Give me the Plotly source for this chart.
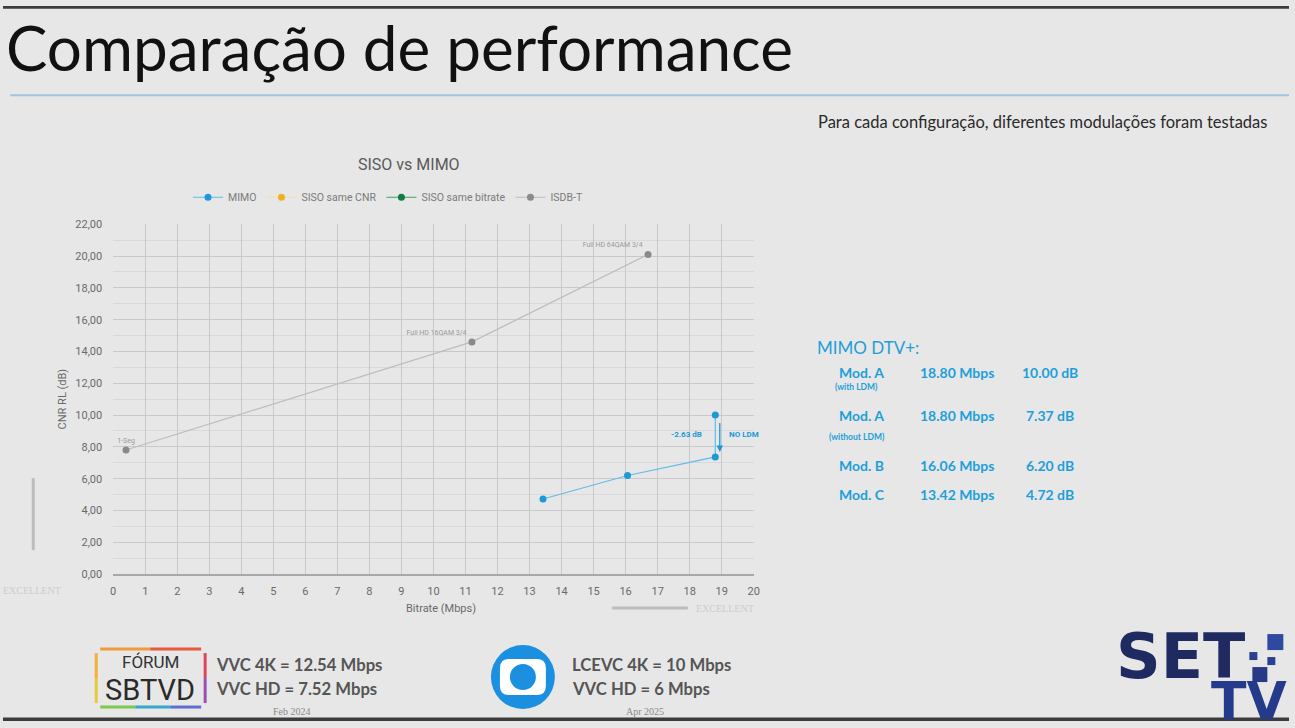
import plotly.graph_objects as go

W, H = 1295, 728

# ---------------- data ----------------
series_names = ["MIMO", "SISO same CNR", "SISO same bitrate", "ISDB-T"]
isdb_x = [0.4, 11.2, 16.7]
isdb_y = [7.8, 14.6, 20.1]
isdb_labels = ["1-Seg", "Full HD 16QAM 3/4", "Full HD 64QAM 3/4"]
mimo_x = [13.42, 16.06, 18.80, 18.80]
mimo_y = [4.72, 6.20, 7.37, 10.00]
x_ticks = list(range(0, 21))
y_ticks = [0, 2, 4, 6, 8, 10, 12, 14, 16, 18, 20, 22]
y_ticktext = [("%.2f" % v).replace(".", ",") for v in y_ticks]

mod_names = ["Mod. A", "Mod. A", "Mod. B", "Mod. C"]
mod_notes = ["(with LDM)", "(without LDM)", "", ""]
mod_bitrate = [18.80, 18.80, 16.06, 13.42]
mod_cnr = [10.00, 7.37, 6.20, 4.72]

ldm_gain = mod_cnr[0] - mod_cnr[1]

# ---------------- helpers (pixel -> paper, with viewport compensation) ----------------
SX, OX = 0.9938, 2.7
SY, OY = 0.9825, 5.7

def px(x):
    return min(max(((x - OX) / SX) / W, 0.0), 1.0)

def py(y):
    return min(max(1 - ((y - OY) / SY) / H, 0.0), 1.0)

BLUE = "#1a9ad6"
GREY_TXT = "#6a6a6a"

fig = go.Figure()

fig.add_trace(go.Scatter(
    x=mimo_x, y=mimo_y, name=series_names[0], mode="lines+markers",
    line=dict(color="#62bde8", width=1.2),
    marker=dict(color=BLUE, size=7),
))
fig.add_trace(go.Scatter(
    x=[None], y=[None], name=series_names[1], mode="lines+markers",
    line=dict(color="#f3dfa8", width=1.2),
    marker=dict(color="#f0b020", size=7),
))
fig.add_trace(go.Scatter(
    x=[None], y=[None], name=series_names[2], mode="lines+markers",
    line=dict(color="#3aa46a", width=1.2),
    marker=dict(color="#137a42", size=7),
))
fig.add_trace(go.Scatter(
    x=isdb_x, y=isdb_y, name=series_names[3], mode="lines+markers+text",
    line=dict(color="#bdbdbd", width=1.2),
    marker=dict(color="#8a8a8a", size=7),
    text=isdb_labels, textposition=["top center", "top left", "top left"],
    textfont=dict(size=7, color="#9a9a9a", family="Roboto"),
))

fig.update_layout(
    autosize=True,
    margin=dict(l=0, r=0, t=0, b=0),
    paper_bgcolor="#e7e7e7",
    plot_bgcolor="#e7e7e7",
    font=dict(family="Roboto", color=GREY_TXT),
    showlegend=True,
    legend=dict(orientation="h", x=px(388), xanchor="center", y=py(197), yanchor="middle",
                font=dict(size=10.5, color="#7a7a7a"), bgcolor="rgba(0,0,0,0)", itemwidth=30),
    xaxis=dict(domain=[px(113), px(754)], range=[0, 20], tickvals=x_ticks,
               showgrid=True, gridcolor="#c9c9c9", gridwidth=1, zeroline=False,
               showline=True, linecolor="#a8a8a8", linewidth=1.5,
               tickfont=dict(size=11, color=GREY_TXT), ticks="", ticklabelstandoff=6),
    yaxis=dict(domain=[py(574), py(224)], range=[0, 22], tickvals=y_ticks, ticktext=y_ticktext,
               showgrid=True, gridcolor="#c9c9c9", gridwidth=1, zeroline=False,
               minor=dict(dtick=1, showgrid=True, gridcolor="#d9d9d9", gridwidth=1),
               tickfont=dict(size=11, color=GREY_TXT), ticks="", ticklabelstandoff=10),
)

ann = []
# slide title
ann.append(dict(x=px(4), y=py(47), xref="paper", yref="paper", xanchor="left", yanchor="middle",
                text="Comparação de performance", showarrow=False,
                font=dict(family="Lato", size=62, color="#111111")))
ann.append(dict(x=px(1270), y=py(122), xref="paper", yref="paper", xanchor="right", yanchor="middle",
                text="Para cada configuração, diferentes modulações foram testadas", showarrow=False,
                font=dict(family="Lato", size=16.5, color="#2a2a2a")))
# chart title
ann.append(dict(x=px(409), y=py(164), xref="paper", yref="paper", xanchor="center", yanchor="middle",
                text="SISO vs MIMO", showarrow=False, font=dict(family="Roboto", size=16, color="#595959")))
# axis titles
ann.append(dict(x=px(441), y=py(608), xref="paper", yref="paper", xanchor="center", yanchor="middle",
                text="Bitrate (Mbps)", showarrow=False, font=dict(size=11, color=GREY_TXT)))
ann.append(dict(x=px(62), y=py(399), xref="paper", yref="paper", xanchor="center", yanchor="middle",
                text="CNR RL (dB)", textangle=-90, showarrow=False, font=dict(size=11, color=GREY_TXT)))
# LDM arrow and labels
ann.append(dict(x=18.94, y=mimo_y[2] + 0.3, ax=18.94, ay=mimo_y[3] - 0.4, xref="x", yref="y",
                axref="x", ayref="y", showarrow=True, arrowhead=2, arrowsize=1, arrowwidth=1.3,
                arrowcolor=BLUE, text=""))
ann.append(dict(x=18.45, y=8.8, xref="x", yref="y", xanchor="right", yanchor="middle",
                text="<b>-%.2f dB</b>" % ldm_gain, showarrow=False, font=dict(size=8, color=BLUE)))
ann.append(dict(x=19.15, y=8.8, xref="x", yref="y", xanchor="left", yanchor="middle",
                text="<b>NO LDM</b>", showarrow=False, font=dict(size=8, color=BLUE)))

# MIMO DTV+ table
TBL = "#1e9fd9"
ann.append(dict(x=px(815), y=py(347), xref="paper", yref="paper", xanchor="left", yanchor="middle",
                text="MIMO DTV+:", showarrow=False, font=dict(family="Lato", size=17, color=TBL)))
row_y = [372, 415, 465, 494]
note_y = [387, 437, None, None]
for i in range(len(mod_names)):
    ann.append(dict(x=px(862), y=py(row_y[i]), xref="paper", yref="paper", xanchor="center", yanchor="middle",
                    text="<b>%s</b>" % mod_names[i], showarrow=False, font=dict(family="Lato", size=14, color=TBL)))
    ann.append(dict(x=px(957), y=py(row_y[i]), xref="paper", yref="paper", xanchor="center", yanchor="middle",
                    text="<b>%.2f Mbps</b>" % mod_bitrate[i], showarrow=False, font=dict(family="Lato", size=14, color=TBL)))
    ann.append(dict(x=px(1050), y=py(row_y[i]), xref="paper", yref="paper", xanchor="center", yanchor="middle",
                    text="<b>%.2f dB</b>" % mod_cnr[i], showarrow=False, font=dict(family="Lato", size=14, color=TBL)))
    if mod_notes[i]:
        ann.append(dict(x=px(857), y=py(note_y[i]), xref="paper", yref="paper", xanchor="center", yanchor="middle",
                        text="<b>%s</b>" % mod_notes[i], showarrow=False, font=dict(family="Lato", size=8.5, color=TBL)))

# faint EXCELLENT labels
ann.append(dict(x=px(32), y=py(590), xref="paper", yref="paper", xanchor="center", yanchor="middle",
                text="EXCELLENT", showarrow=False, font=dict(family="Liberation Serif", size=10, color="#cdcdcd")))
ann.append(dict(x=px(725), y=py(608), xref="paper", yref="paper", xanchor="center", yanchor="middle",
                text="EXCELLENT", showarrow=False, font=dict(family="Liberation Serif", size=10, color="#cdcdcd")))

# bottom texts
BT = "#555555"
ann.append(dict(x=px(214), y=py(665), xref="paper", yref="paper", xanchor="left", yanchor="middle",
                text="<b>VVC 4K = 12.54 Mbps</b>", showarrow=False, font=dict(family="Lato", size=16.7, color=BT)))
ann.append(dict(x=px(214), y=py(689), xref="paper", yref="paper", xanchor="left", yanchor="middle",
                text="<b>VVC HD = 7.52 Mbps</b>", showarrow=False, font=dict(family="Lato", size=16.7, color=BT)))
ann.append(dict(x=px(292), y=py(711), xref="paper", yref="paper", xanchor="center", yanchor="middle",
                text="Feb 2024", showarrow=False, font=dict(family="Liberation Serif", size=10, color="#8a8a8a")))
ann.append(dict(x=px(570), y=py(665), xref="paper", yref="paper", xanchor="left", yanchor="middle",
                text="<b>LCEVC 4K = 10 Mbps</b>", showarrow=False, font=dict(family="Lato", size=16.7, color=BT)))
ann.append(dict(x=px(570), y=py(689), xref="paper", yref="paper", xanchor="left", yanchor="middle",
                text="<b>VVC HD = 6 Mbps</b>", showarrow=False, font=dict(family="Lato", size=16.7, color=BT)))
ann.append(dict(x=px(645), y=py(711), xref="paper", yref="paper", xanchor="center", yanchor="middle",
                text="Apr 2025", showarrow=False, font=dict(family="Liberation Serif", size=10, color="#8a8a8a")))
# Forum SBTVD logo text
ann.append(dict(x=px(150), y=py(662), xref="paper", yref="paper", xanchor="center", yanchor="middle",
                text="FÓRUM", showarrow=False, borderpad=0, font=dict(family="Roboto", size=17, color="#333333")))
ann.append(dict(x=px(150), y=py(690), xref="paper", yref="paper", xanchor="center", yanchor="middle",
                text="SBTVD", showarrow=False, borderpad=0, font=dict(family="Roboto", size=29, color="#2a2a2a")))
# SET TV logo text
NAVY = "#1f2b60"
ann.append(dict(x=px(1116), y=py(656), xref="paper", yref="paper", xanchor="left", yanchor="middle",
                text="<b>SET</b>", showarrow=False, borderpad=0,
                font=dict(family="DejaVu Sans", size=62, color=NAVY)))
ann.append(dict(x=px(1289), y=py(701), xref="paper", yref="paper", xanchor="right", yanchor="middle",
                text="<b>TV</b>", showarrow=False, borderpad=0,
                font=dict(family="DejaVu Sans", size=52, color="#243a8a")))

fig.update_layout(annotations=ann)

# ---------------- shapes ----------------
shapes = []
# slide frame edges (dark bands)
shapes.append(dict(type="rect", xref="paper", yref="paper", x0=0, x1=1, y0=0.996, y1=1,
                   fillcolor="#3c3c3c", line=dict(width=0)))
shapes.append(dict(type="rect", xref="paper", yref="paper", x0=0, x1=1, y0=0, y1=0.005,
                   fillcolor="#3c3c3c", line=dict(width=0)))
# line under title
shapes.append(dict(type="line", xref="paper", yref="paper", x0=px(10), x1=1, y0=py(95), y1=py(95),
                   line=dict(color="#9dc4e2", width=2)))
# faint grey bars
shapes.append(dict(type="line", xref="paper", yref="paper", x0=px(33), x1=px(33), y0=py(478), y1=py(550),
                   line=dict(color="#bcbcbc", width=3)))
shapes.append(dict(type="line", xref="paper", yref="paper", x0=px(612), x1=px(688), y0=py(608), y1=py(608),
                   line=dict(color="#bcbcbc", width=3)))

# rainbow border for Forum SBTVD logo
def seg(x0, y0, x1, y1, c):
    return dict(type="line", xref="paper", yref="paper", x0=px(x0), x1=px(x1), y0=py(y0), y1=py(y1),
                line=dict(color=c, width=3))
L, R, T, B = 96, 205, 649, 707
shapes += [
    seg(L + 4, T, 150, T, "#f29a38"), seg(150, T, R - 4, T, "#e65a3c"),
    seg(R, T + 4, R, 678, "#e0445a"), seg(R, 678, R, B - 4, "#9b4fb0"),
    seg(R - 4, B, 170, B, "#5a6fd0"), seg(170, B, 135, B, "#36a8c8"), seg(135, B, L + 4, B, "#7cc850"),
    seg(L, B - 4, L, 678, "#e8c93a"), seg(L, 678, L, T + 4, "#f2b03a"),
]

# Globo logo
cx, cy, r = 523, 677, 32
shapes.append(dict(type="circle", xref="paper", yref="paper", x0=px(cx - r), x1=px(cx + r),
                   y0=py(cy + r), y1=py(cy - r), fillcolor="#1b8fe0", line=dict(width=0)))

def rrect(x0, y0, x1, y1, rad):
    pts = [
        "M %f %f" % (px(x0 + rad), py(y0)),
        "L %f %f" % (px(x1 - rad), py(y0)),
        "Q %f %f %f %f" % (px(x1), py(y0), px(x1), py(y0 + rad)),
        "L %f %f" % (px(x1), py(y1 - rad)),
        "Q %f %f %f %f" % (px(x1), py(y1), px(x1 - rad), py(y1)),
        "L %f %f" % (px(x0 + rad), py(y1)),
        "Q %f %f %f %f" % (px(x0), py(y1), px(x0), py(y1 - rad)),
        "L %f %f" % (px(x0), py(y0 + rad)),
        "Q %f %f %f %f" % (px(x0), py(y0), px(x0 + rad), py(y0)),
        "Z",
    ]
    return " ".join(pts)

shapes.append(dict(type="path", xref="paper", yref="paper", path=rrect(500, 659, 546, 695, 9),
                   fillcolor="white", line=dict(width=0)))
shapes.append(dict(type="circle", xref="paper", yref="paper", x0=px(cx - 13), x1=px(cx + 13),
                   y0=py(cy + 13), y1=py(cy - 13), fillcolor="#1b8fe0", line=dict(width=0)))

# SET TV squares
def sq(x0, y0, x1, y1, c):
    return dict(type="rect", xref="paper", yref="paper", x0=px(x0), x1=px(x1), y0=py(y1), y1=py(y0),
                fillcolor=c, line=dict(width=0))
shapes += [
    sq(1268, 634, 1284, 650, "#2d4aa0"),
    sq(1250, 652, 1258, 660, "#2a3f8f"),
    sq(1268, 657, 1276, 665, "#2a3f8f"),
    sq(1253, 667, 1268, 682, "#263a85"),
]

fig.update_layout(shapes=shapes)

css_js = ("document.documentElement.style.margin='0';document.documentElement.style.overflow='hidden';"
          "document.body.style.margin='0';document.body.style.overflow='hidden';"
          "window.dispatchEvent(new Event('resize'));")
fig.write_html("out.html", config={"displayModeBar": False, "responsive": True},
               default_width="100vw", default_height="100vh", post_script=css_js)
